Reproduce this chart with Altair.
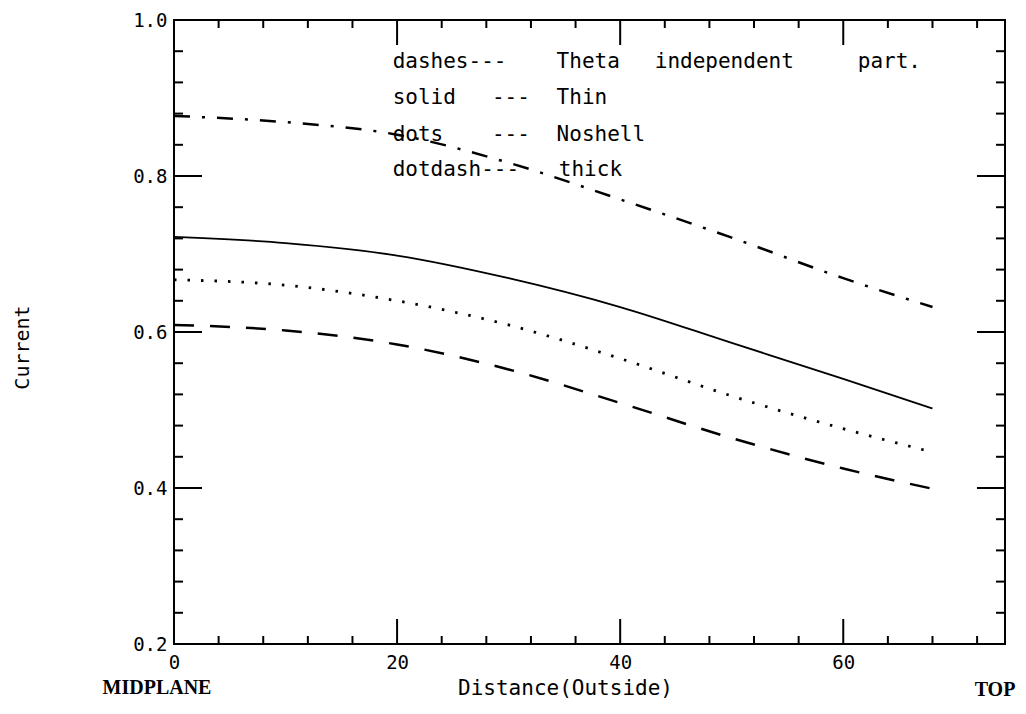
import altair as alt
import pandas as pd

# ---- data ----
x_pos = [0, 10, 20, 30, 40, 50, 60, 68]
theta_indep = [0.609, 0.602, 0.584, 0.552, 0.509, 0.464, 0.425, 0.399]   # dashes
thin = [0.722, 0.714, 0.698, 0.669, 0.632, 0.586, 0.540, 0.502]          # solid
noshell = [0.667, 0.660, 0.640, 0.609, 0.566, 0.518, 0.476, 0.446]       # dots
thick = [0.877, 0.869, 0.853, 0.817, 0.770, 0.721, 0.669, 0.632]         # dotdash

x_ticks = [0, 20, 40, 60]
y_ticks = [0.2, 0.4, 0.6, 0.8, 1.0]
x_major_inner = [20, 40, 60]
x_minor = [4, 8, 12, 16, 24, 28, 32, 36, 44, 48, 52, 56, 64, 68, 72]
y_major_inner = [0.4, 0.6, 0.8]
y_minor = [0.24, 0.28, 0.32, 0.36, 0.44, 0.48, 0.52, 0.56,
           0.64, 0.68, 0.72, 0.76, 0.84, 0.88, 0.92, 0.96]

legend_words = ["dashes---", "Theta", "independent", "part.",
                "solid", "---", "Thin",
                "dots", "---", "Noshell",
                "dotdash---", "thick"]
legend_x = [19.6, 34.3, 43.1, 61.3,
            19.6, 28.5, 34.3,
            19.6, 28.5, 34.3,
            19.6, 34.5]
legend_y = [0.946, 0.946, 0.946, 0.946,
            0.900, 0.900, 0.900,
            0.853, 0.853, 0.853,
            0.808, 0.808]

W, H = 831, 624
MONO = "DejaVu Sans Mono"
SERIF = "Liberation Serif"

xscale = alt.Scale(domain=[0, 74.5], nice=False, zero=False)
yscale = alt.Scale(domain=[0.2, 1.0], nice=False, zero=False)

curves = pd.DataFrame({"x": x_pos, "dashes": theta_indep, "solid": thin,
                       "dots": noshell, "dotdash": thick})

xaxis = alt.Axis(values=x_ticks, format="d", title="Distance(Outside)",
                 labelFont=MONO, labelFontSize=19, labelColor="black",
                 labelPadding=9, labelFlush=False, ticks=False, domain=False, grid=False,
                 titleFont=MONO, titleFontSize=21, titleFontWeight="normal",
                 titleColor="black", titleX=391, titleY=44,
                 titleAlign="center", titleBaseline="middle")
yaxis = alt.Axis(values=y_ticks, format=".1f", title="Current",
                 labelFont=MONO, labelFontSize=19, labelColor="black",
                 labelPadding=7, labelFlush=False, ticks=False, domain=False, grid=False,
                 titleFont=MONO, titleFontSize=20, titleFontWeight="normal",
                 titleColor="black", titleAngle=270, titleX=-152, titleY=327,
                 titleAlign="center", titleBaseline="middle")


def X(field):
    return alt.X(field, scale=xscale, axis=xaxis)


def Y(field):
    return alt.Y(field, scale=yscale, axis=yaxis)


base = alt.Chart(curves)

solid_line = base.mark_line(color="black", strokeWidth=1.8, interpolate="monotone").encode(
    x=X("x:Q"), y=Y("solid:Q"))
dash_line = base.mark_line(color="black", strokeWidth=2.5, strokeDash=[20, 16],
                           interpolate="monotone").encode(x=X("x:Q"), y=Y("dashes:Q"))
dot_line = base.mark_line(color="black", strokeWidth=2.8, strokeDash=[2.5, 11],
                          interpolate="monotone").encode(x=X("x:Q"), y=Y("dots:Q"))
dotdash_line = base.mark_line(color="black", strokeWidth=2.5, strokeDash=[16, 12, 3, 12],
                              interpolate="monotone").encode(x=X("x:Q"), y=Y("dotdash:Q"))


# ---- inward tick marks on all four sides ----
def xticks(vals, length):
    d = pd.DataFrame({"x": vals})
    bottom = alt.Chart(d).mark_rule(color="black", strokeWidth=2).encode(
        x=X("x:Q"), y=alt.value(H), y2=alt.value(H - length))
    top = alt.Chart(d).mark_rule(color="black", strokeWidth=2).encode(
        x=X("x:Q"), y=alt.value(0), y2=alt.value(length))
    return [bottom, top]


def yticks(vals, length):
    d = pd.DataFrame({"solid": vals})
    left = alt.Chart(d).mark_rule(color="black", strokeWidth=2).encode(
        y=Y("solid:Q"), x=alt.value(0), x2=alt.value(length))
    right = alt.Chart(d).mark_rule(color="black", strokeWidth=2).encode(
        y=Y("solid:Q"), x=alt.value(W), x2=alt.value(W - length))
    return [left, right]


tick_layers = xticks(x_major_inner, 25) + xticks(x_minor, 8) + \
    yticks(y_major_inner, 28) + yticks(y_minor, 9)

# ---- legend text inside the plot ----
leg = pd.DataFrame({"t": legend_words, "x": legend_x, "solid": legend_y})
legend_text = alt.Chart(leg).mark_text(font=MONO, fontSize=21, align="left",
                                       baseline="middle", color="black").encode(
    x=X("x:Q"), y=Y("solid:Q"), text="t:N")

end_labels = pd.DataFrame({"t": ["MIDPLANE", "TOP"]})
midplane = alt.Chart(end_labels[end_labels.t == "MIDPLANE"]).mark_text(
    font=SERIF, fontSize=20, fontWeight="bold", align="center", baseline="middle",
    color="black").encode(x=alt.value(-17), y=alt.value(668), text="t:N")
top_lbl = alt.Chart(end_labels[end_labels.t == "TOP"]).mark_text(
    font=SERIF, fontSize=20, fontWeight="bold", align="center", baseline="middle",
    color="black").encode(x=alt.value(821), y=alt.value(670), text="t:N")

chart = alt.layer(
    solid_line, dash_line, dot_line, dotdash_line, *tick_layers,
    legend_text, midplane, top_lbl,
).properties(
    width=W, height=H, autosize="none",
    padding={"left": 166, "top": 12, "right": 13, "bottom": 58},
    background="white",
).configure_view(stroke="black", strokeWidth=2)

chart.save("out.html", embed_options={"renderer": "svg", "actions": False})
